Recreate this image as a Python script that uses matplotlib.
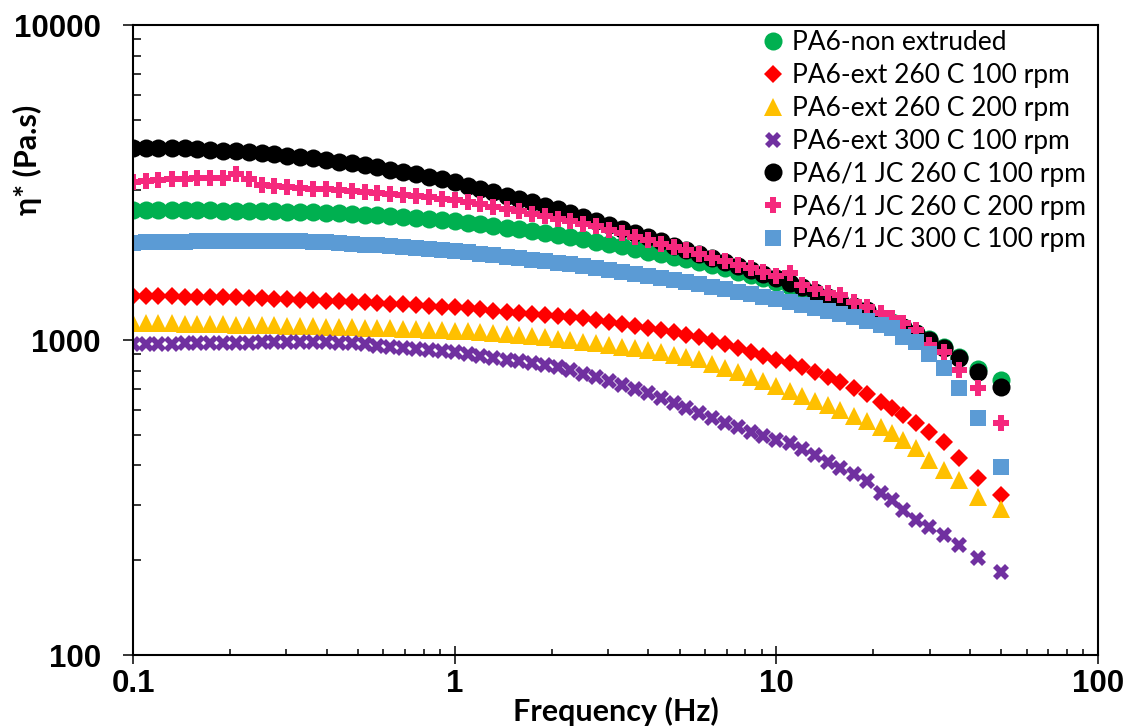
import matplotlib
matplotlib.use("Agg")
import matplotlib.pyplot as plt
from matplotlib.ticker import LogLocator, NullFormatter, FixedLocator

# frequency (Hz)
freq = [0.100, 0.110, 0.120, 0.132, 0.145, 0.158, 0.174, 0.191, 0.209, 0.229,
        0.251, 0.275, 0.302, 0.331, 0.363, 0.398, 0.437, 0.479, 0.525, 0.575,
        0.631, 0.692, 0.759, 0.832, 0.912, 1.00, 1.10, 1.20, 1.32, 1.45,
        1.58, 1.74, 1.91, 2.09, 2.29, 2.51, 2.75, 3.02, 3.31, 3.63,
        3.98, 4.37, 4.79, 5.25, 5.75, 6.31, 6.92, 7.59, 8.32, 9.12,
        10.0, 11.0, 12.0, 13.2, 14.5, 15.8, 17.4, 19.1,
        21.2, 22.9, 24.8, 27.2, 29.9, 33.2, 37.0, 42.4, 50.0]

# complex viscosity (Pa.s)
pa6_non = [2590, 2590, 2588, 2586, 2584, 2582, 2579, 2576, 2572, 2568,
           2564, 2560, 2555, 2550, 2542, 2533, 2523, 2512, 2500, 2487,
           2473, 2458, 2442, 2424, 2404, 2385, 2360, 2333, 2305, 2276,
           2246, 2215, 2183, 2151, 2118, 2085, 2052, 2018, 1981, 1944,
           1908, 1872, 1837, 1803, 1770, 1728, 1687, 1647, 1607, 1568,
           1530, 1482, 1435, 1390, 1346, 1303, 1261, 1221,
           1175, 1140, 1100, 1055, 1005, 950, 885, 810, 747]

ext_260_100 = [1380, 1379, 1377, 1375, 1373, 1371, 1369, 1367, 1365, 1361,
               1357, 1353, 1349, 1344, 1339, 1334, 1329, 1324, 1319, 1312,
               1305, 1298, 1291, 1284, 1277, 1270, 1260, 1250, 1240, 1231,
               1222, 1213, 1204, 1195, 1183, 1172, 1160, 1143, 1127, 1111,
               1095, 1076, 1058, 1040, 1022, 995, 968, 942, 916, 890,
               865, 845, 820, 792, 765, 735, 705, 675,
               636, 607, 577, 547, 512, 474, 423, 365, 322]

ext_260_200 = [1133, 1132, 1130, 1129, 1127, 1126, 1124, 1122, 1120, 1118,
               1115, 1113, 1110, 1108, 1105, 1103, 1100, 1098, 1095, 1092,
               1088, 1085, 1081, 1078, 1074, 1070, 1065, 1060, 1055, 1046,
               1037, 1028, 1019, 1010, 999, 988, 977, 965, 953, 942,
               930, 914, 899, 884, 870, 842, 815, 789, 764, 739,
               715, 690, 665, 642, 620, 598, 575, 552,
               531, 508, 482, 455, 416, 386, 360, 317, 290]

ext_300_100 = [971, 972, 973, 974, 975, 976, 977, 978, 980, 982,
               984, 986, 988, 988, 987, 985, 980, 975, 968, 960,
               952, 945, 938, 930, 922, 914, 902, 889, 877, 866,
               855, 843, 832, 820, 801, 782, 763, 741, 720, 700,
               680, 655, 632, 608, 586, 566, 547, 529, 512, 496,
               482, 470, 450, 430, 410, 393, 376, 358,
               326, 311, 289, 268, 255, 240, 223, 203, 183]

jc_260_100 = [4070, 4075, 4075, 4070, 4062, 4040, 4020, 3996, 3970, 3942,
              3912, 3881, 3850, 3818, 3776, 3731, 3684, 3635, 3584, 3531,
              3476, 3420, 3362, 3302, 3241, 3170, 3093, 3018, 2945, 2874,
              2805, 2738, 2673, 2610, 2532, 2455, 2380, 2311, 2244, 2179,
              2116, 2055, 1995, 1937, 1880, 1824, 1770, 1717, 1666, 1617,
              1570, 1518, 1468, 1420, 1373, 1328, 1284, 1242,
              1168, 1135, 1100, 1052, 1000, 944, 877, 791, 710]

jc_260_200 = [3175, 3195, 3215, 3235, 3255, 3270, 3280, 3275, 3370, 3250,
              3110, 3080, 3060, 3040, 3025, 3010, 2993, 2975, 2955, 2934,
              2912, 2888, 2863, 2837, 2810, 2782, 2740, 2697, 2653, 2609,
              2565, 2520, 2475, 2430, 2385, 2340, 2295, 2238, 2183, 2128,
              2075, 2023, 1973, 1924, 1876, 1827, 1780, 1733, 1688, 1644,
              1601, 1630, 1490, 1450, 1415, 1385, 1320, 1272,
              1218, 1172, 1132, 1075, 965, 916, 803, 705, 545]

jc_300_100 = [2035, 2040, 2045, 2048, 2052, 2055, 2057, 2059, 2060, 2061,
              2061, 2060, 2058, 2055, 2048, 2040, 2031, 2021, 2010, 1998,
              1985, 1972, 1959, 1945, 1931, 1917, 1897, 1877, 1857, 1837,
              1817, 1797, 1777, 1757, 1737, 1717, 1697, 1672, 1647, 1623,
              1599, 1575, 1551, 1528, 1505, 1478, 1451, 1425, 1399, 1373,
              1348, 1322, 1293, 1265, 1238, 1210, 1180, 1150,
              1116, 1091, 1023, 986, 900, 816, 706, 565, 395]

labels = ["PA6-non extruded", "PA6-ext 260 C 100 rpm", "PA6-ext 260 C 200 rpm",
          "PA6-ext 300 C 100 rpm", "PA6/1 JC 260 C 100 rpm",
          "PA6/1 JC 260 C 200 rpm", "PA6/1 JC 300 C 100 rpm"]
series = [pa6_non, ext_260_100, ext_260_200, ext_300_100,
          jc_260_100, jc_260_200, jc_300_100]
markers = ["o", "D", "^", "X", "o", "P", "s"]
sizes = [13, 9.5, 13, 11.5, 13, 11, 11.5]
colors = ["#00B050", "#FF0000", "#FFC000", "#7030A0", "#000000", "#F5287D", "#5B9BD5"]

fig, ax = plt.subplots(figsize=(11.35, 7.27), dpi=100)
fig.subplots_adjust(left=0.1172, right=0.9674, bottom=0.099, top=0.9656)

for y, lab, m, ms, c in zip(series, labels, markers, sizes, colors):
    ax.plot(freq, y, linestyle="none", marker=m, markersize=ms, color=c,
            markeredgewidth=0, label=lab)

ax.set_xscale("log")
ax.set_yscale("log")
ax.set_xlim(0.1, 100)
ax.set_ylim(100, 10000)

ax.xaxis.set_major_locator(FixedLocator([0.1, 1, 10, 100]))
ax.yaxis.set_major_locator(FixedLocator([100, 1000, 10000]))
ax.set_xticklabels(["0.1", "1", "10", "100"])
ax.set_yticklabels(["100", "1000", "10000"])
ax.xaxis.set_minor_locator(LogLocator(base=10, subs=range(2, 10)))
ax.yaxis.set_minor_locator(LogLocator(base=10, subs=range(2, 10)))
ax.xaxis.set_minor_formatter(NullFormatter())
ax.yaxis.set_minor_formatter(NullFormatter())

ax.tick_params(axis="x", which="major", direction="inout", length=13, width=1.1, pad=3.5)
ax.tick_params(axis="x", which="minor", direction="in", length=4.5, width=1.1)
ax.tick_params(axis="y", which="major", direction="out", length=7.2, width=1.1, pad=16)
ax.tick_params(axis="y", which="minor", direction="in", length=5.5, width=1.1)
for t in ax.get_xticklabels() + ax.get_yticklabels():
    t.set_fontfamily("Liberation Sans")
    t.set_fontweight("bold")
    t.set_fontsize(22.5)

for s in ax.spines.values():
    s.set_linewidth(1.5)

ax.set_xlabel("Frequency (Hz)", family=["Lato", "DejaVu Sans"], fontweight="bold", fontsize=22)
ax.xaxis.set_label_coords(0.5, -0.066)
ax.set_ylabel("η* (Pa.s)", family=["Lato", "DejaVu Sans"], fontweight="bold", fontsize=22)
ax.yaxis.set_label_coords(-0.094, 0.786)

leg = ax.legend(loc="upper left", bbox_to_anchor=(760 / 1135, 1 - 30 / 727),
                bbox_transform=fig.transFigure, frameon=False, borderpad=0,
                borderaxespad=0, handlelength=1.0, handletextpad=0.2,
                labelspacing=0.3, prop={"family": "Lato", "size": 19})

fig.savefig("out.png", dpi=100)
